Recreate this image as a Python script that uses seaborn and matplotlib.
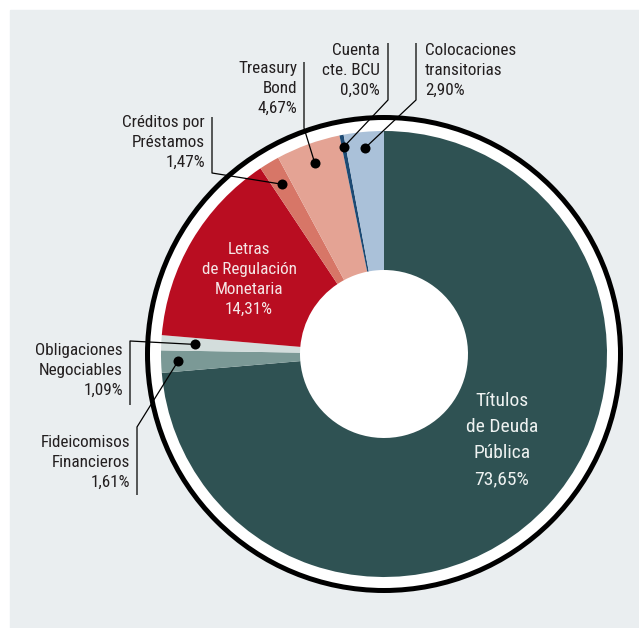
import numpy as np
import matplotlib
matplotlib.use("Agg")
import matplotlib.pyplot as plt
import seaborn as sns
from matplotlib.patches import Circle, Rectangle
from matplotlib import font_manager

# ---------------- data ----------------
names = ["Títulos de Deuda Pública", "Fideicomisos Financieros", "Obligaciones Negociables",
         "Letras de Regulación Monetaria", "Créditos por Préstamos", "Treasury Bond",
         "Cuenta cte. BCU", "Colocaciones transitorias"]
label_lines = [["Títulos", "de Deuda", "Pública"],
               ["Fideicomisos", "Financieros"],
               ["Obligaciones", "Negociables"],
               ["Letras", "de Regulación", "Monetaria"],
               ["Créditos por", "Préstamos"],
               ["Treasury", "Bond"],
               ["Cuenta", "cte. BCU"],
               ["Colocaciones", "transitorias"]]
values = [73.65, 1.61, 1.09, 14.31, 1.47, 4.67, 0.30, 2.90]
colors = ["#2f5253", "#7b9996", "#d3dddc", "#b90d21", "#d77667", "#e4a394", "#1d4a73", "#aac1d9"]

sns.set_theme(style="white")
available = {f.name for f in font_manager.fontManager.ttflist}
candidates = ["Liberation Sans Narrow", "Roboto Condensed", "Open Sans Condensed", "Lato"]
main_font = next((c for c in candidates if c in available), "DejaVu Sans")
FONT = [main_font, "DejaVu Sans"]
plt.rcParams["font.family"] = FONT

W, H = 639, 628
fig = plt.figure(figsize=(W / 100, H / 100), dpi=100, facecolor="white")
ax = fig.add_axes([0, 0, 1, 1])

cx, cy = 384, 354
R, HOLE = 223, 84

ax.add_patch(Rectangle((10, 10), W, H, color="#eaeef0", zorder=0))
ax.add_patch(Circle((cx, cy), 236.5, facecolor="white", edgecolor="black", lw=3.6, zorder=1))

wedges, _ = ax.pie(values, colors=colors, startangle=-90, counterclock=True,
                   radius=R, center=(cx, cy),
                   wedgeprops=dict(width=R - HOLE, linewidth=0, zorder=2))
for w in wedges:
    w.set_zorder(2)

ax.set_xlim(0, W)
ax.set_ylim(H, 0)
ax.set_aspect("equal")
ax.axis("off")

def pct(v):
    return f"{v:.2f}".replace(".", ",") + "%"

cum = np.cumsum([0] + values)
mids = [(cum[i] + cum[i + 1]) / 2 / 100 * 360 for i in range(len(values))]

def dot_pos(i, r):
    t = np.deg2rad(mids[i])
    return cx + r * np.sin(t), cy - r * np.cos(t)

txt_color = "#231f20"
FS = 12.3

def block(lines, x, y0, ha, color=txt_color, fs=FS, step=20):
    for k, s in enumerate(lines):
        ax.text(x, y0 + k * step, s, ha=ha, va="baseline", fontsize=fs,
                color=color, zorder=5)

outer = [
    (4, 205, 127, "right", [(212, 117), (212, 173)], 198),
    (5, 297, 73, "right", [(304, 62), (304, 128)], 203),
    (6, 380, 55, "right", [(388, 43), (388, 100)], 211),
    (7, 425, 55, "left", [(416, 43), (416, 100)], 207),
    (2, 123, 355, "right", [(130, 405), (130, 341)], 189),
    (1, 130, 447, "right", [(137, 495), (137, 427)], 206),
]
for i, x, y0, ha, path, r in outer:
    block(label_lines[i] + [pct(values[i])], x, y0, ha)
    dx, dy = dot_pos(i, r)
    xs = [p[0] for p in path] + [dx]
    ys = [p[1] for p in path] + [dy]
    ax.plot(xs, ys, color="black", lw=0.9, zorder=4, solid_capstyle="butt")
    ax.scatter([dx], [dy], s=52, color="black", zorder=6, linewidths=0)

block(label_lines[3] + [pct(values[3])], 249, 254, "center", color="#f5e6e6", step=20)
block(label_lines[0] + [pct(values[0])], 502, 406, "center", color="#eef2f1", fs=14, step=26)

fig.savefig("out.png", dpi=100, facecolor="white")
